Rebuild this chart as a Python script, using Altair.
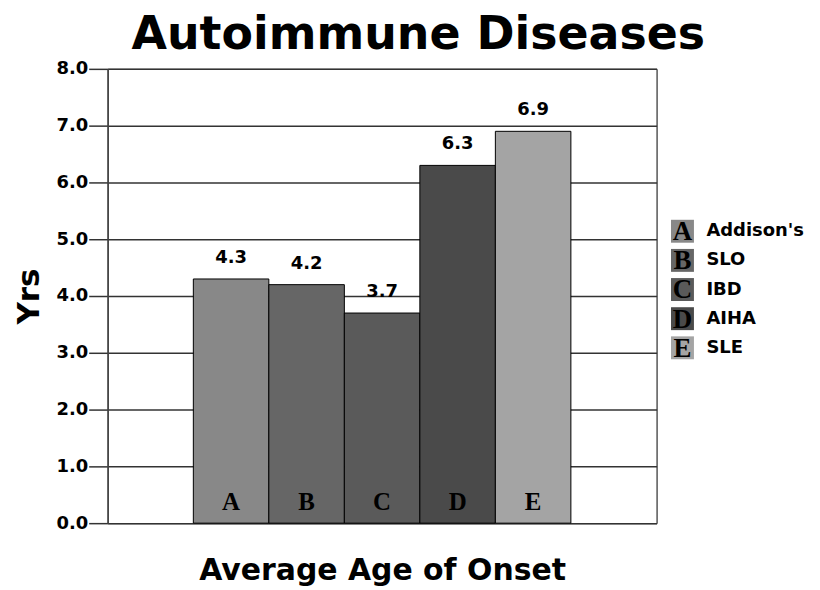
import altair as alt
import pandas as pd

letters = ["A", "B", "C", "D", "E"]
diseases = ["Addison's", "SLO", "IBD", "AIHA", "SLE"]
values = [4.3, 4.2, 3.7, 6.3, 6.9]
colors = ["#888888", "#666666", "#5a5a5a", "#4a4a4a", "#a4a4a4"]
y_ticks = [0, 1, 2, 3, 4, 5, 6, 7, 8]

df = pd.DataFrame({"letter": letters, "disease": diseases, "value": values,
                   "idx": list(range(len(letters)))})

FONT = "DejaVu Sans"
SERIF = "Liberation Serif"

xscale = alt.Scale(domain=[-1.635, 5.635], nice=False, zero=False)
xaxis = alt.Axis(title="Average Age of Onset", labels=False, ticks=False,
                 domain=False, grid=False, titleFont=FONT, titleFontSize=30,
                 titleFontWeight="bold", titleColor="black", titlePadding=33)
yenc = alt.Y("value:Q", scale=alt.Scale(domain=[0, 8]),
             axis=alt.Axis(values=y_ticks, format=".1f", title="Yrs", tickSize=19,
                           labelPadding=1, labelFont=FONT, labelFontSize=18,
                           labelFontWeight="bold", labelColor="black",
                           tickColor="#333333", tickWidth=1.5,
                           domainColor="#444444", domainWidth=1.5,
                           gridColor="#333333", gridWidth=1.5,
                           titleFont=FONT, titleFontSize=31, titleFontWeight="bold",
                           titleColor="black", titlePadding=10))
color = alt.Color("letter:N", scale=alt.Scale(domain=letters, range=colors), legend=None)

base = alt.Chart(df).transform_calculate(lo="datum.idx - 0.5", hi="datum.idx + 0.5")
bars = base.mark_rect(stroke="black", strokeWidth=1).encode(
    x=alt.X("lo:Q", scale=xscale, axis=xaxis), x2="hi:Q",
    y=yenc, y2=alt.datum(0), color=color)
vals = base.mark_text(font=FONT, fontWeight="bold", fontSize=18, baseline="bottom",
                      dy=-12, color="black").encode(
    x=alt.X("idx:Q", scale=xscale, axis=xaxis), y=yenc,
    text=alt.Text("value:Q", format=".1f"))
lets = base.mark_text(font=SERIF, fontWeight="bold", fontSize=25, baseline="alphabetic",
                      dy=-13, color="black").encode(
    x=alt.X("idx:Q", scale=xscale, axis=xaxis), y=alt.datum(0), text="letter:N")

main = alt.layer(bars, vals, lets).properties(width=551, height=456)

lyenc = alt.Y("idx:Q", scale=alt.Scale(domain=[0, 4], range=[163, 280]), axis=None)
lbase = alt.Chart(df)
sq = lbase.mark_square(size=529, opacity=1).encode(
    x=alt.value(15), y=lyenc, color=color)
sqt = lbase.mark_text(font=SERIF, fontWeight="bold", fontSize=27, baseline="middle",
                      dy=1, color="black").encode(x=alt.value(15), y=lyenc, text="letter:N")
lab = lbase.mark_text(font=FONT, fontWeight="bold", fontSize=18, align="left",
                      baseline="middle", color="black").encode(
    x=alt.value(39), y=lyenc, text="disease:N")
legend = alt.layer(sq, sqt, lab).properties(width=140, height=456,
                                             view=alt.ViewBackground(stroke=None))

chart = alt.hconcat(main, legend, spacing=10).properties(
    title=alt.TitleParams("Autoimmune Diseases", font=FONT, fontSize=46,
                          fontWeight="bold", color="black", anchor="middle", offset=0,
                          dx=8),
    background="white",
    padding={"top": 3, "left": 5, "right": 5, "bottom": 0},
).configure_view(stroke="black", strokeWidth=1)

chart.save("out.html", embed_options={"renderer": "svg", "actions": False})
